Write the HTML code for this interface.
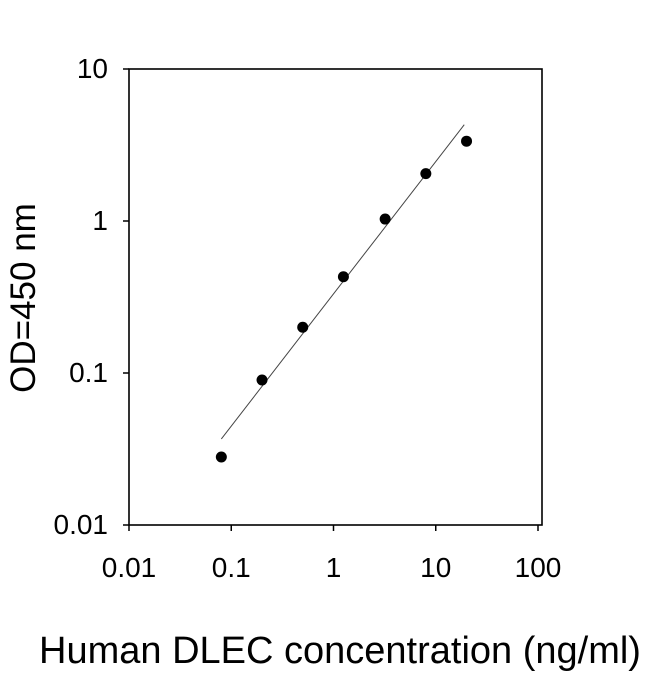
<!DOCTYPE html>
<html><head><meta charset="utf-8"><style>
body{margin:0;background:#fff;}
svg{display:block;font-family:"Liberation Sans",Arial,sans-serif;}
</style></head><body>
<svg id="chart" width="650" height="674" viewBox="0 0 650 674"></svg>
<script>
const xTicks=[0.01,0.1,1,10,100];
const xTickLabels=["0.01","0.1","1","10","100"];
const yTicks=[0.01,0.1,1,10];
const yTickLabels=["0.01","0.1","1","10"];
const concentrations=[0.08,0.2,0.5,1.25,3.2,8,20];
const odValues=[0.028,0.09,0.2,0.43,1.03,2.05,3.35];
const fitX=[0.08,19];
const fitY=[0.0368,4.3];

const NS="http://www.w3.org/2000/svg";
const svg=document.getElementById('chart');
const X0=129,X1=538,Y0=525,Y1=69;
function xs(v){return X0+(Math.log10(v)+2)/4*(X1-X0);}
function ys(v){return Y0-(Math.log10(v)+2)/3*(Y0-Y1);}
function mk(tag,attrs,parent){const e=document.createElementNS(NS,tag);for(const k in attrs)e.setAttribute(k,attrs[k]);(parent||svg).appendChild(e);return e;}

const frame=mk('rect',{x:X0,y:Y1,width:542-X0,height:Y0-Y1,fill:'none',stroke:'#000','stroke-width':1.6});



xTicks.forEach((t,i)=>{
  const x=xs(t);
  const tk=mk('line',{x1:x,x2:x,y1:Y0,y2:Y0+6,stroke:'#000','stroke-width':1.5});
  
  
  const lb=mk('text',{x:x,y:Y0+52,'text-anchor':'middle','font-size':28});
  lb.textContent=xTickLabels[i];
  
  
});
yTicks.forEach((t,i)=>{
  const y=ys(t);
  const tk=mk('line',{x1:X0-6,x2:X0,y1:y,y2:y,stroke:'#000','stroke-width':1.5});
  
  
  const lb=mk('text',{x:X0-21,y:y+9,'text-anchor':'end','font-size':28});
  lb.textContent=yTickLabels[i];
  
  
});

const fit=mk('line',{x1:xs(fitX[0]),y1:ys(fitY[0]),x2:xs(fitX[1]),y2:ys(fitY[1]),stroke:'#444','stroke-width':1});



concentrations.forEach((c,i)=>{
  const p=mk('circle',{cx:xs(c),cy:ys(odValues[i]),r:5.5,fill:'#000'});
  
  
});

const yt=mk('text',{x:0,y:0,'text-anchor':'middle','font-size':35,transform:'translate(35,298) rotate(-90)'});
yt.textContent='OD=450 nm';


const xt=mk('text',{x:340,y:663,'text-anchor':'middle','font-size':38});
xt.textContent='Human DLEC concentration (ng/ml)';


</script>
</body></html>
